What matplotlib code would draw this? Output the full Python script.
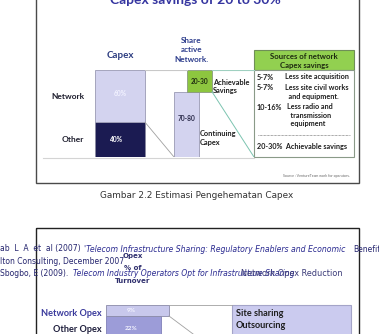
import matplotlib.pyplot as plt
from matplotlib.patches import Rectangle

# ---- data ----
capex_categories = ["Network", "Other"]
capex_values = [60, 40]
capex_labels = ["60%", "40%"]

saving_categories = ["Continuing\nCapex", "Achievable\nSavings"]
saving_values = [75, 25]
saving_labels = ["70-80", "20-30"]

source_pcts = ["5-7%", "5-7%", "10-16%"]
source_items = ["Less site acquisition", "Less site civil works\n  and equipment.",
                "Less radio and\n  transmission\n  equipment"]
source_total = "20-30%  Achievable savings"

opex_categories = ["Network Opex", "Other Opex"]
opex_values = [9, 22]
opex_labels = ["9%", "22%"]
opex_actions = ["Site sharing", "Outsourcing"]

W, H = 379, 334
DIAG = "Lato"
DOC = "DejaVu Sans"

fig = plt.figure(figsize=(W / 100, H / 100), dpi=100)
fig.patch.set_facecolor("white")

# page axes in pixel coordinates (y goes down)
ax = fig.add_axes([0, 0, 1, 1])
ax.set_xlim(0, W)
ax.set_ylim(H, 0)
ax.set_axis_off()


def px_axes(x0, y0, x1, y1):
    a = fig.add_axes([x0 / W, 1 - y1 / H, (x1 - x0) / W, (y1 - y0) / H])
    a.set_axis_off()
    return a


# ---------------- top slide ----------------
ax.add_patch(Rectangle((36, -5), 323, 188, fill=False, ec="#4a4a4a", lw=1.0))
ax.text(195, 3.5, "Capex savings of 20 to 30%", family=DIAG, weight="bold",
        fontsize=10, color="#3535a0", ha="center", va="baseline")
ax.text(120, 55, "Capex", family=DIAG, weight="bold", fontsize=7,
        color="#2c3c80", ha="center", va="center")
ax.text(191.5, 50, "Share\nactive\nNetwork.", family=DIAG, weight="bold", fontsize=5.9,
        color="#2c3c8c", ha="center", va="center", linespacing=1.4)
ax.plot([43, 254], [158, 158], color="#d4d4d4", lw=0.8)

ax_top = px_axes(0, 70, W, 157)
ax_top.set_xlim(0, W)
ax_top.set_ylim(0, 100)

# capex stacked bar
bottom = capex_values[1]
ax_top.bar(95, capex_values[1], width=50, align="edge", color="#1b1b52", ec="#8a8aa0", lw=0.6)
ax_top.bar(95, capex_values[0], bottom=bottom, width=50, align="edge",
           color="#d3d3ef", ec="#9a9ab4", lw=0.6)
ax_top.text(120, bottom + capex_values[0] / 2 + 3, capex_labels[0], family=DIAG, weight="bold",
            fontsize=4.8, color="#f2f2ff", ha="center", va="center")
ax_top.text(117, capex_values[1] / 2, capex_labels[1], family=DIAG, weight="bold",
            fontsize=4.8, color="white", ha="center", va="center")
for y, lab in zip([bottom + capex_values[0] / 2, capex_values[1] / 2], capex_categories):
    ax_top.text(84, y, lab, family=DIAG, weight="bold", fontsize=6,
                color="#1e1e2e", ha="right", va="center")

# continuing / savings
ax_top.bar(174, saving_values[0], width=25, align="edge", color="#d3d3ef", ec="#9a9ab4", lw=0.6)
ax_top.bar(187, saving_values[1], bottom=saving_values[0], width=25, align="edge",
           color="#8dc63f", ec="#8a9a80", lw=0.6)
ax_top.text(186.5, saving_values[0] / 2 + 7, saving_labels[0], family=DIAG, weight="bold",
            fontsize=4.8, color="#2a2a4a", ha="center", va="center")
ax_top.text(199.5, saving_values[0] + saving_values[1] / 2 - 1, saving_labels[1], family=DIAG,
            weight="bold", fontsize=4.8, color="#1e2a10", ha="center", va="center")
ax_top.text(200, 22, saving_categories[0], family=DIAG, weight="bold", fontsize=5.3,
            color="#1e1e1e", ha="left", va="center", linespacing=1.3)
ax_top.text(213, 81, saving_categories[1], family=DIAG, weight="bold", fontsize=5.3,
            color="#1e1e1e", ha="left", va="center", linespacing=1.3)

# connector lines
ax_top.plot([145, 187], [100, 100], color="#c8c8c8", lw=0.8)
ax_top.plot([212, 254], [100, 100], color="#9fd0c0", lw=0.8)
ax_top.plot([145, 174], [capex_values[1], 0], color="#a0a0a0", lw=0.6)
ax_top.plot([212, 254], [saving_values[0], 0], color="#7cc4b0", lw=0.7)

# sources table
ax.add_patch(Rectangle((254, 50), 100, 20, fc="#92d050", ec="#6f8f58", lw=0.8))
ax.add_patch(Rectangle((254, 70), 100, 87, fc="white", ec="#8a9a88", lw=0.8))
ax.text(304, 61, "Sources of network\nCapex savings", family=DIAG, weight="bold", fontsize=5.6,
        color="#1e2a10", ha="center", va="center", linespacing=1.2)
row_y = [77, 88, 107]
for y, pct, item in zip(row_y, source_pcts, source_items):
    ax.text(257, y, pct, family=DIAG, weight="bold", fontsize=5.2, color="#1e1e1e",
            ha="left", va="center")
    ax.text(285 if pct != "10-16%" else 287, y - 3.6, item, family=DIAG, weight="bold",
            fontsize=5.2, color="#1e1e1e", ha="left", va="top", linespacing=1.25)
ax.plot([258, 350], [135, 135], color="#555555", lw=0.5, ls=(0, (1, 1)))
ax.text(257, 146, source_total, family=DIAG, weight="bold", fontsize=5.2, color="#1e1e1e",
        ha="left", va="center")
ax.text(350, 176, "Source : VentureTeam work for operators.", family=DIAG, fontsize=2.6,
        color="#666666", ha="right", va="center")

# caption
ax.text(196.5, 196, "Gambar 2.2 Estimasi Pengehematan Capex", family=DOC, fontsize=6.4,
        color="#333333", ha="center", va="center")

# ---------------- bottom slide ----------------
ax.add_patch(Rectangle((36, 228), 323, 130, fill=False, ec="#222222", lw=1.0))

ref_blue = "#2a2a90"
ax.text(0, 249, "ab  L  A  et  al (2007)", family=DOC, fontsize=5.5, color="#24246e",
        ha="left", va="center")
ax.text(84, 249, "'Telecom Infrastructure Sharing: Regulatory Enablers and Economic", family=DOC,
        style="italic", fontsize=5.6, color=ref_blue, ha="left", va="center")
ax.text(353, 249, "Benefits", family=DOC, fontsize=5.5, color="#24246e", ha="left", va="center",
        clip_on=True)
ax.text(0, 261, "lton Consulting, December 2007", family=DOC, fontsize=5.5, color="#24246e",
        ha="left", va="center")
ax.text(0, 273, "Sbogbo, E (2009).", family=DOC, fontsize=5.5, color="#24246e",
        ha="left", va="center")
ax.text(73, 273, "Telecom Industry Operators Opt for Infrastructure Sharing", family=DOC,
        style="italic", fontsize=5.5, color=ref_blue, ha="left", va="center")

ax.text(133, 256, "Opex", family=DOC, weight="bold", fontsize=5, color="#30306e",
        ha="center", va="center")
ax.text(133, 268, "% of", family=DOC, weight="bold", fontsize=5, color="#30306e",
        ha="center", va="center")
ax.text(133, 281, "Turnover", family=DOC, weight="bold", fontsize=5, color="#30306e",
        ha="center", va="center")
ax.text(292, 273, "Network Opex Reduction", family=DOC, fontsize=5.9, color="#3a3a78",
        ha="center", va="center")

# opex bars: 9% segment spans 11 px
ax_bot = px_axes(0, 305, W, 305 + 11 / opex_values[0] * sum(opex_values))
ax_bot.set_xlim(0, W)
ax_bot.set_ylim(0, sum(opex_values))
ax_bot.bar(106, opex_values[1], width=55, align="edge", color="#9c9cd8", ec="#8080b8", lw=0.6)
ax_bot.bar(106, opex_values[0], bottom=opex_values[1], width=63, align="edge",
           color="#c8c8ec", ec="#8a8aa8", lw=0.6)
ax_bot.text(131, opex_values[1] + opex_values[0] / 2, opex_labels[0], family=DIAG, weight="bold",
            fontsize=4.6, color="#f4f4ff", ha="center", va="center")
ax_bot.text(131, opex_values[1] - 10.5, opex_labels[1], family=DIAG, weight="bold",
            fontsize=4.6, color="#f4f4ff", ha="center", va="center")
ax_bot.plot([169, 232], [sum(opex_values)] * 2, color="#a0a0a0", lw=0.6)
ax_bot.plot([169, 205], [opex_values[1], 0], color="#a0a0a0", lw=0.6)

ax.text(102, 313, opex_categories[0], family=DIAG, weight="bold", fontsize=6.6,
        color="#3a3a9c", ha="right", va="center")
ax.text(102, 330, opex_categories[1], family=DIAG, weight="bold", fontsize=6.6,
        color="#1e1e3c", ha="right", va="center")

ax.add_patch(Rectangle((232, 305), 119, 40, fc="#cbcbef", ec="#a4a4c8", lw=0.8))
for y, act in zip([314, 326], opex_actions):
    ax.text(236, y, act, family=DIAG, weight="bold", fontsize=6.6, color="#1e1e1e",
            ha="left", va="center")

fig.savefig("out.png", dpi=100)
